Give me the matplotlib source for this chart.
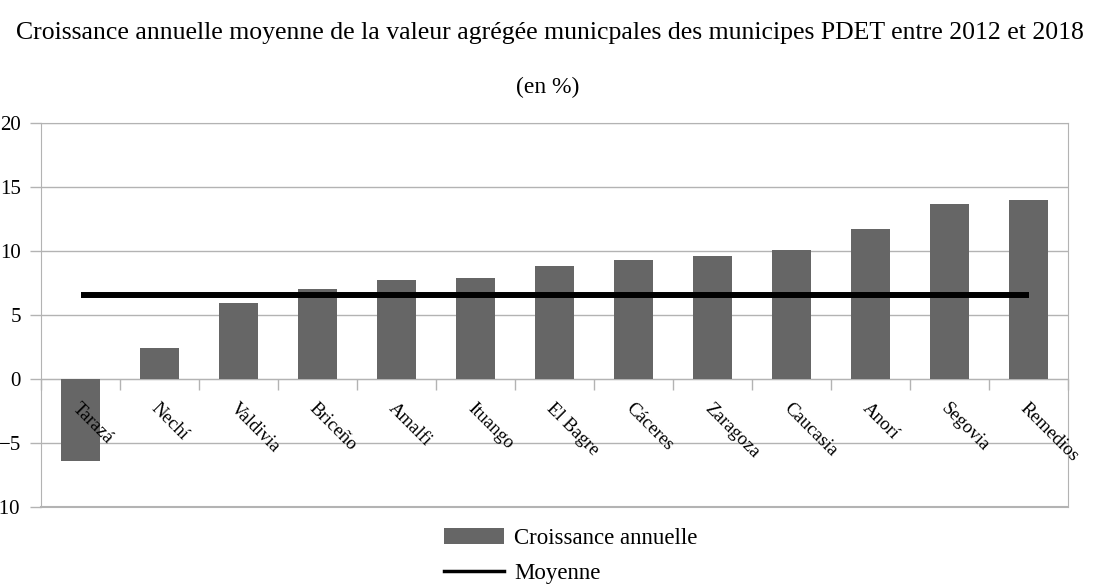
import numpy as np
import matplotlib.pyplot as plt
from matplotlib.patches import Patch
from matplotlib.lines import Line2D

plt.rcParams['font.family'] = ['Liberation Serif', 'DejaVu Serif']

communes = ["Tarazá", "Nechí", "Valdivia", "Briceño", "Amalfi", "Ituango", "El Bagre",
            "Cáceres", "Zaragoza", "Caucasia", "Anorí", "Segovia", "Remedios"]
croissance = [-6.4, 2.4, 5.9, 7.0, 7.75, 7.9, 8.85, 9.3, 9.6, 10.1, 11.75, 13.7, 14.0]
moyenne = [6.55] * len(communes)

titre = "Croissance annuelle moyenne de la valeur agrégée municpales des municipes PDET entre 2012 et 2018"
sous_titre = "(en %)"

grey_grid = "#b3b3b3"

fig = plt.figure(figsize=(10.96, 5.85), dpi=100)
ax = fig.add_axes([41 / 1096, 1 - 507 / 585, (1068 - 41) / 1096, (507 - 123) / 585])

x = np.arange(len(communes))
ax.bar(x, croissance, width=0.5, color="#666666", zorder=2)
ax.plot(x, moyenne, color="black", lw=4.3, zorder=3, solid_capstyle="butt")

ax.set_xlim(-0.5, len(communes) - 0.5)
ax.set_ylim(-10, 20)
ax.set_yticks(np.arange(-10, 21, 5))
ax.yaxis.grid(True, color=grey_grid, lw=1, zorder=0)
ax.tick_params(axis="y", direction="out", length=8, width=1, color=grey_grid,
               labelsize=15, pad=6.5)

for side in ["top", "right"]:
    ax.spines[side].set_color(grey_grid)
ax.spines["left"].set_color(grey_grid)
ax.spines["bottom"].set_position(("data", 0))
ax.spines["bottom"].set_color(grey_grid)
ax.spines["bottom"].set_zorder(1)
ax.axhline(-10, color=grey_grid, lw=1.5, zorder=0, clip_on=False)

# category separators hanging below the zero line
ax.set_xticks(np.arange(-0.5, len(communes), 1.0))
ax.set_xticklabels([])
ax.tick_params(axis="x", direction="out", length=8, width=1, color=grey_grid)

for xi, name in zip(x, communes):
    ax.text(xi - 0.07, -2.1, name, rotation=-45, rotation_mode="anchor",
            ha="left", va="center", fontsize=13.5)

fig.text(0.502, 1 - 33 / 585, titre, ha="center", va="center", fontsize=18.5)
fig.text(0.5, 1 - 87 / 585, sous_titre, ha="center", va="center", fontsize=17)

handles = [Patch(facecolor="#666666", edgecolor="none"),
           Line2D([0], [0], color="black", lw=2.5)]
fig.legend(handles, ["Croissance annuelle", "Moyenne"], loc="center",
           bbox_to_anchor=(571 / 1096, 1 - 556 / 585), frameon=False, fontsize=16.5,
           handlelength=2.6, handletextpad=0.45, labelspacing=0.6)

fig.savefig("out.png", dpi=100)
